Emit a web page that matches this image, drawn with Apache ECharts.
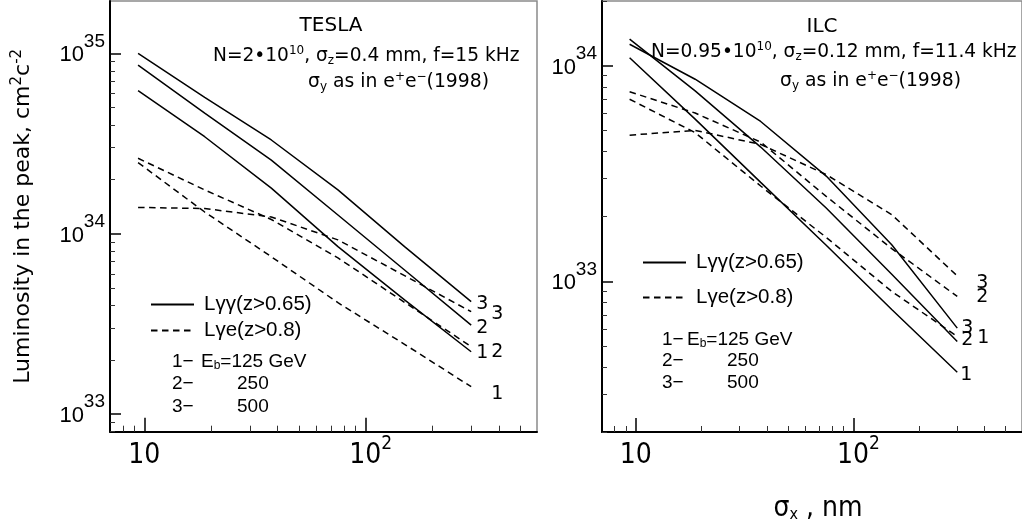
<!DOCTYPE html>
<html><head><meta charset="utf-8">
<script src="https://cdn.jsdelivr.net/npm/echarts@6/dist/echarts.min.js"></script>
<style>html,body{margin:0;padding:0;background:#fff}#c{width:1022px;height:529px}</style>
</head><body><div id="c"></div>
<script>
// sigma_x values (nm)
const sigmaX = [9.375, 18.75, 37.5, 75, 150, 300];
// TESLA: L_gamma-gamma (solid) and L_gamma-e (dashed), E_b = 125 / 250 / 500 GeV
const teslaGG1 = [6.21e34, 3.45e34, 1.79e34, 8.49e33, 4.30e33, 2.22e33];
const teslaGG2 = [8.61e34, 4.66e34, 2.56e34, 1.27e34, 6.30e33, 3.12e33];
const teslaGG3 = [1.00e35, 5.70e34, 3.31e34, 1.75e34, 8.49e33, 4.21e33];
const teslaGE1 = [2.48e34, 1.32e34, 7.46e33, 4.15e33, 2.44e33, 1.42e33];
const teslaGE2 = [2.62e34, 1.75e34, 1.20e34, 7.35e33, 4.17e33, 2.37e33];
const teslaGE3 = [1.40e34, 1.38e34, 1.24e34, 9.25e33, 5.86e33, 3.70e33];
// ILC
const ilcGG1 = [1.09e34, 5.66e33, 2.88e33, 1.47e33, 7.41e32, 3.79e32];
const ilcGG2 = [1.33e34, 7.65e33, 4.20e33, 2.19e33, 1.08e33, 5.26e32];
const ilcGG3 = [1.26e34, 8.67e33, 5.52e33, 3.08e33, 1.48e33, 6.07e32];
const ilcGE1 = [7.00e33, 4.90e33, 2.77e33, 1.60e33, 8.98e32, 5.55e32];
const ilcGE2 = [7.59e33, 6.04e33, 4.43e33, 2.48e33, 1.42e33, 8.51e32];
const ilcGE3 = [4.77e33, 5.02e33, 4.32e33, 3.13e33, 2.04e33, 1.06e33];
// ticks
const xMajorTicks = [10, 100];
const xMinorTicks = [8, 9, 20, 30, 40, 50, 60, 70, 80, 90, 200, 300, 400, 500];
const yMajorTicks = [1e32, 1e33, 1e34, 1e35];
const yMinorTicks = [2e32,3e32,4e32,5e32,6e32,7e32,8e32,9e32,
  2e33,3e33,4e33,5e33,6e33,7e33,8e33,9e33,
  2e34,3e34,4e34,5e34,6e34,7e34,8e34,9e34];
// curve labels
const curveNames = ['1', '2', '3'];
const nameGG = 'Lγγ(z>0.65)';
const nameGE = 'Lγe(z>0.8)';

const pts = ys => sigmaX.map((x, i) => [x, ys[i]]);
const chart = echarts.init(document.getElementById('c'));

const X_MIN = 7, X_MAX = 595;
const grids = [
  {left: 110, top: 1, width: 427, height: 430.7},
  {left: 602, top: 1, width: 424.5, height: 431}
];
const yRanges = [[8e32, 1.95e35], [2e32, 2e34]];

function xLabelFmt(v) {
  const e = Math.round(Math.log10(v));
  return e === 1 ? '{b|10}' : '{bs|10}{s|' + e + '}';
}
function yLabelFmt(v) {
  const e = Math.round(Math.log10(v));
  return '{b|10}{s|' + e + '}';
}
const NARROW = '"Liberation Sans Narrow", "DejaVu Sans Condensed", sans-serif';

const xAxes = [], yAxes = [];
grids.forEach((g, gi) => {
  xAxes.push({
    gridIndex: gi, type: 'log', min: X_MIN, max: X_MAX, position: 'bottom',
    axisLine: {show: true, lineStyle: {color: '#000', width: 2}},
    axisTick: {show: true, inside: true, length: 14, customValues: xMajorTicks, lineStyle: {color: '#000', width: 1.5}},
    axisLabel: {show: true, customValues: xMajorTicks, formatter: xLabelFmt, margin: 1,
      rich: {
        b: {fontFamily: NARROW, fontSize: 28, lineHeight: 46, color: '#000'},
        bs: {fontFamily: NARROW, fontSize: 28, lineHeight: 46, color: '#000', padding: [0, 0, 0, 10]},
        s: {fontFamily: NARROW, fontSize: 19, color: '#000', padding: [0, 0, 23, 0]}
      }},
    splitLine: {show: false},
    name: gi === 1 ? 'σ{s|x} , nm' : '',
    nameLocation: 'middle', nameGap: 63,
    nameTextStyle: {fontFamily: NARROW, fontSize: 28, color: '#000', padding: [0, 0, 0, 12],
      rich: {s: {fontFamily: NARROW, fontSize: 16, color: '#000', padding: [12, 0, 0, 0]}}}
  });
  xAxes.push({
    gridIndex: gi, type: 'log', min: X_MIN, max: X_MAX, position: 'bottom',
    axisLine: {show: false}, axisLabel: {show: false}, splitLine: {show: false},
    axisTick: {show: true, inside: true, length: 6, customValues: xMinorTicks, lineStyle: {color: '#333', width: 1}}
  });
  yAxes.push({
    gridIndex: gi, type: 'log', min: yRanges[gi][0], max: yRanges[gi][1], position: 'left',
    axisLine: {show: true, lineStyle: {color: '#000', width: 2}},
    axisTick: {show: true, inside: true, length: 11, customValues: yMajorTicks, lineStyle: {color: '#000', width: 1.5}},
    axisLabel: {show: true, customValues: yMajorTicks, formatter: yLabelFmt, margin: 5,
      rich: {
        b: {fontFamily: 'Liberation Sans, Arial, sans-serif', fontSize: 22, lineHeight: 46, color: '#000', padding: [4, 0, 0, 0]},
        s: {fontFamily: 'Liberation Sans, Arial, sans-serif', fontSize: 19, color: '#000', padding: [0, 0, 24, 0]}
      }},
    splitLine: {show: false},
    name: gi === 0 ? 'Luminosity in the peak, cm{s|2}c{s|-2}' : '',
    nameLocation: 'middle', nameGap: 73, nameRotate: 90,
    nameTextStyle: {fontFamily: 'DejaVu Sans, sans-serif', fontSize: 22, color: '#000',
      rich: {s: {fontFamily: 'DejaVu Sans, sans-serif', fontSize: 15, color: '#000', padding: [0, 0, 12, 0]}}}
  });
  yAxes.push({
    gridIndex: gi, type: 'log', min: yRanges[gi][0], max: yRanges[gi][1], position: 'left',
    axisLine: {show: false}, axisLabel: {show: false}, splitLine: {show: false},
    axisTick: {show: true, inside: true, length: 5, customValues: yMinorTicks, lineStyle: {color: '#333', width: 1}}
  });
});

function mkSeries(name, ys, panel, dashed, label, off) {
  return {
    type: 'line', name: name, data: pts(ys),
    xAxisIndex: panel * 2, yAxisIndex: panel * 2,
    symbol: 'none', silent: true,
    lineStyle: {color: '#000', width: 1.5, type: dashed ? [6.5, 4.5] : 'solid'},
    itemStyle: {color: '#000'},
    endLabel: {show: true, formatter: label, distance: 0, offset: off,
      fontFamily: 'DejaVu Sans, sans-serif', fontSize: 19, color: '#000'}
  };
}

const series = [
  mkSeries(nameGG, teslaGG1, 0, false, curveNames[0], [5, 1]),
  mkSeries(nameGG, teslaGG2, 0, false, curveNames[1], [5, 3]),
  mkSeries(nameGG, teslaGG3, 0, false, curveNames[2], [5, 2]),
  mkSeries(nameGE, teslaGE1, 0, true, curveNames[0], [20, 7]),
  mkSeries(nameGE, teslaGE2, 0, true, curveNames[1], [20, 5]),
  mkSeries(nameGE, teslaGE3, 0, true, curveNames[2], [20, 2]),
  mkSeries(nameGG, ilcGG1, 1, false, curveNames[0], [3, 3]),
  mkSeries(nameGG, ilcGG2, 1, false, curveNames[1], [4, -1]),
  mkSeries(nameGG, ilcGG3, 1, false, curveNames[2], [4, 0]),
  mkSeries(nameGE, ilcGE1, 1, true, curveNames[0], [20, 2]),
  mkSeries(nameGE, ilcGE2, 1, true, curveNames[1], [19, 1]),
  mkSeries(nameGE, ilcGE3, 1, true, curveNames[2], [19, 7])
];

const legendText = {fontFamily: 'Liberation Sans, Arial, sans-serif', fontSize: 20.5, color: '#000', padding: [0, 0, 0, 5]};
const legends = [
  {left: 145, top: 289, orient: 'vertical', itemWidth: 43, itemHeight: 14, itemGap: 5,
   data: [nameGG, nameGE], textStyle: legendText, itemStyle: {opacity: 0}, selectedMode: false},
  {left: 637, top: 247, orient: 'vertical', itemWidth: 43, itemHeight: 14, itemGap: 14,
   data: [nameGG, nameGE], textStyle: legendText, itemStyle: {opacity: 0}, selectedMode: false}
];

const tFont = s => s + 'px "DejaVu Sans", sans-serif';
const tRich = {
  sup: {font: '12px "DejaVu Sans", sans-serif', padding: [0, 0, 10, 0]},
  sub: {font: '12px "DejaVu Sans", sans-serif', padding: [9, 0, 0, 0]}
};
const eFont = '19px "Liberation Sans", Arial, sans-serif';
const eRich = {sub: {font: '12px "Liberation Sans", Arial, sans-serif', padding: [8, 0, 0, 0]}};
function txt(x, y, text, font, rich, align) {
  return {type: 'text', x: x, y: y, silent: true,
    style: {text: text, font: font, fill: '#000', rich: rich || {}, align: align || 'left', verticalAlign: 'middle'}};
}
const graphics = [
  txt(331, 26, 'TESLA', tFont(20), tRich, 'center'),
  txt(213, 56, 'N=2•10{sup|10}, σ{sub|z}=0.4 mm, f=15 kHz', tFont(18.6), tRich),
  txt(308, 82, 'σ{sub|y} as in e{sup|+}e{sup|−}(1998)', tFont(18.8), tRich),
  txt(822, 27, 'ILC', tFont(20), tRich, 'center'),
  txt(651, 52, 'N=0.95•10{sup|10}, σ{sub|z}=0.12 mm, f=11.4 kHz', tFont(18.6), tRich),
  txt(780, 81, 'σ{sub|y} as in e{sup|+}e{sup|−}(1998)', tFont(18.8), tRich),
  txt(172, 362, '1−', eFont, eRich), txt(201, 362, 'E{sub|b}=125 GeV', eFont, eRich),
  txt(172, 384, '2−', eFont, eRich), txt(237, 384, '250', eFont, eRich),
  txt(172, 407, '3−', eFont, eRich), txt(237, 407, '500', eFont, eRich),
  txt(662, 340, '1−', eFont, eRich), txt(687, 340, 'E{sub|b}=125 GeV', eFont, eRich),
  txt(662, 361, '2−', eFont, eRich), txt(727, 361, '250', eFont, eRich),
  txt(662, 383, '3−', eFont, eRich), txt(727, 383, '500', eFont, eRich)
];

chart.setOption({
  animation: false,
  backgroundColor: '#fff',
  grid: grids.map(g => Object.assign({show: true, borderColor: '#8a8a8a', borderWidth: 1.5, backgroundColor: 'transparent'}, g)),
  xAxis: xAxes,
  yAxis: yAxes,
  legend: legends,
  series: series,
  graphic: graphics
});
</script></body></html>
